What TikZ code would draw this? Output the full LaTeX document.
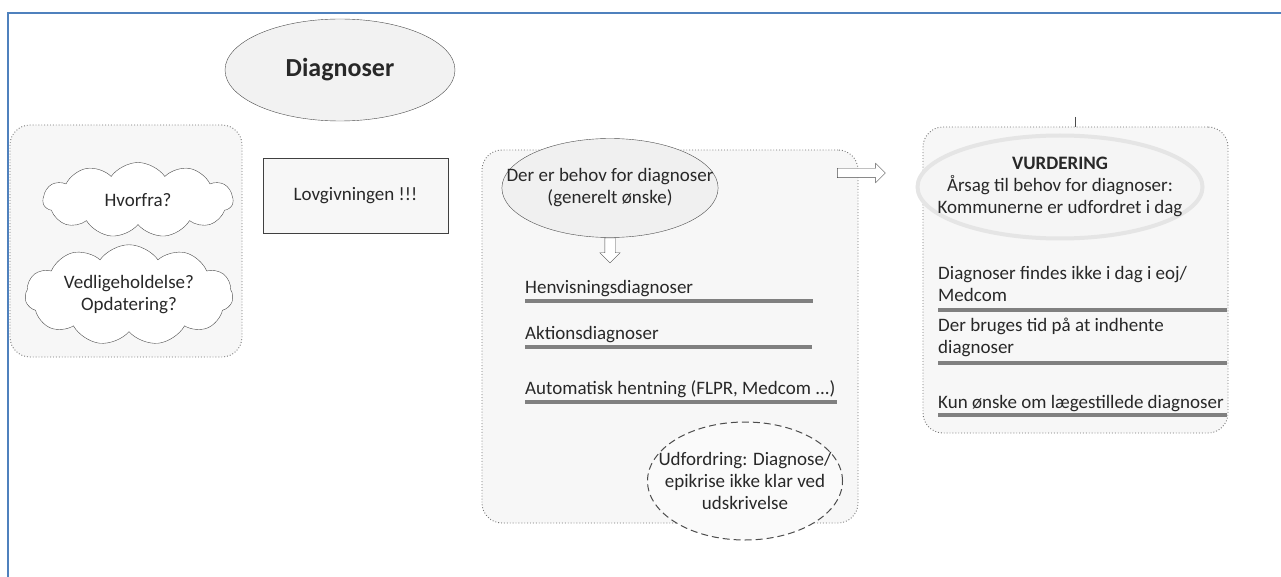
\documentclass[tikz,border=0pt]{standalone}
\usepackage{fontspec}
\setmainfont{Carlito}
\usetikzlibrary{positioning,shapes.geometric,shapes.symbols,shapes.arrows}
\definecolor{frameblue}{RGB}{79,129,189}
\definecolor{inktxt}{RGB}{40,40,40}
\tikzset{
  panel/.style={draw=black!55, line width=0.9pt, dotted, rounded corners=20pt, fill=black!3},
  puff/.style={cloud, cloud puffs=11, cloud puff arc=110, aspect=2.4, draw=black!70, fill=white, align=center, inner sep=0pt},
  oval/.style={ellipse, draw=black!70, fill=black!6, align=center, inner sep=0pt},
  item/.style={inner sep=0pt, align=left},
  bar/.style={draw=black!50, line width=4pt},
  blockarrow/.style={single arrow, draw=black!70, fill=white, single arrow head extend=5pt}
}
\begin{document}
\begin{tikzpicture}[x=1pt, y=-1pt, every node/.style={font=\fontsize{19}{22}\selectfont, text=inktxt}]
  \useasboundingbox (0,0) rectangle (1281,577);
  \draw[frameblue, line width=2.5pt] (8,577) -- (8,13) -- (1281,13);

  % title
  \node[oval, fill=black!5, minimum width=230pt, minimum height=102pt, font=\fontsize{26}{30}\selectfont\bfseries] (title) at (340,70) {Diagnoser};

  % left panel
  \node[panel, minimum width=232pt, minimum height=232pt] (qbox) at (126,241) {};
  \node[puff, minimum width=190pt, minimum height=75pt] (hvorfra) at (138,200) {Hvorfra?};
  \node[puff, minimum width=208pt, minimum height=84pt] (vedl) at (129,295) {Vedligeholdelse?\\Opdatering?};

  \node[draw=black!75, fill=black!3, minimum width=185pt, minimum height=75pt] (lov) at (355.5,195.5) {Lovgivningen !!!};

  % middle panel
  \node[panel, minimum width=376pt, minimum height=373pt] (needbox) at (670,336.5) {};
  \node[oval, inner xsep=-27pt, minimum width=215pt, minimum height=99pt] (behov) at (610,188) {Der er behov for diagnoser\\(generelt ønske)};
  \node[blockarrow, inner sep=5pt, minimum height=25pt, shape border rotate=270, below=0pt of behov] (ned) {};
  \node[item, anchor=base west] (henv) at (525,293) {Henvisningsdiagnoser};
  \draw[bar] (525,301) -- (813,301);
  \node[item, anchor=base west] (akt) at (525,339) {Aktionsdiagnoser};
  \draw[bar] (525,347) -- (812,347);
  \node[item, anchor=base west] (auto) at (525,394) {Automatisk hentning (FLPR, Medcom ...)};
  \draw[bar] (525,402) -- (837,402);
  \node[oval, inner xsep=-19pt, dash pattern=on 7pt off 4pt, fill=black!2, line width=1pt, minimum width=195pt, minimum height=118pt] (udf) at (745,481) {Udfordring: Diagnose/\\epikrise ikke klar ved\\udskrivelse};

  \node[blockarrow, inner sep=4.5pt, minimum height=48pt] (frem) at (859,173) {};

  % right panel
  \node[panel, minimum width=305pt, minimum height=306pt] (vurdbox) at (1075.5,280) {};
  \coordinate (tick) at (1075,117);
  \draw[black!70] (tick) -- (tick |- vurdbox.north);
  \node[ellipse, draw=black!10, line width=4pt, fill=black!4, align=center, inner xsep=-22pt, inner ysep=0pt, minimum width=285pt, minimum height=103pt] (vurd) at (1060,187) {\textbf{VURDERING}\\Årsag til behov for diagnoser:\\Kommunerne er udfordret i dag};
  \node[item, anchor=west] (eoj) at (938,284) {Diagnoser findes ikke i dag i eoj/\\Medcom};
  \draw[bar] (938,310) -- (1227,310);
  \node[item, anchor=west] (tid) at (938,337.5) {Der bruges tid på at indhente\\diagnoser};
  \draw[bar] (938,363) -- (1227,363);
  \node[item, anchor=base west] (laege) at (938,408) {Kun ønske om lægestillede diagnoser};
  \draw[bar] (938,415) -- (1227,415);
\end{tikzpicture}
\end{document}
